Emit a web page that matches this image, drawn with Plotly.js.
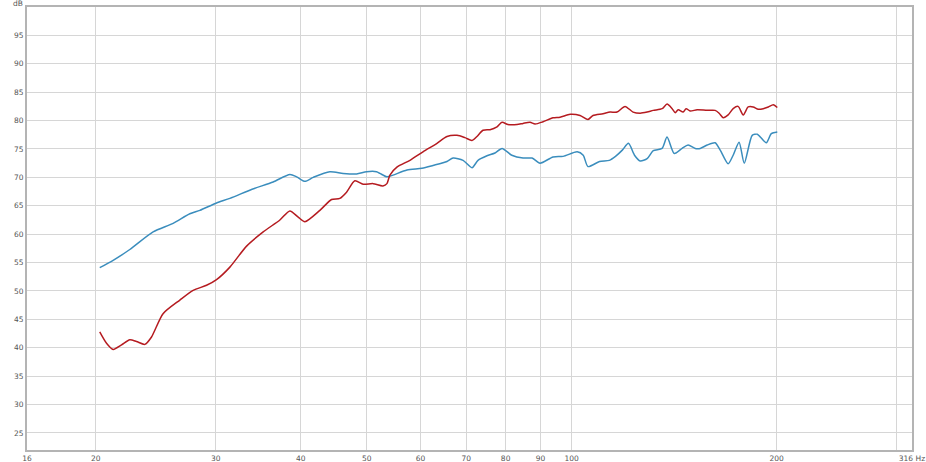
<!DOCTYPE html>
<html>
<head>
<meta charset="utf-8">
<script src="https://cdn.plot.ly/plotly-3.0.1.min.js"></script>
<style>
html,body{margin:0;padding:0;background:#fff;}
#chart{width:926px;height:462px;}
</style>
</head>
<body>
<div id="chart"></div>
<script>
// Blue trace (frequency Hz, level dB)
const blueFreq = [20.27,21.21,22.44,24.28,25.98,27.49,28.44,30.09,31.48,33.93,36.44,38.56,39.45,40.57,41.73,44.15,46.17,48.32,49.98,51.70,52.29,53.54,54.65,57.30,60.29,62.57,65.60,66.97,69.27,71.39,72.86,75.11,77.17,79.03,81.69,84.85,87.48,89.87,93.91,97.16,101.9,104.0,105.7,109.9,113.6,116.0,118.7,121.2,123.7,126.1,129.1,131.8,135.8,138.1,141.5,145.3,148.3,151.9,154.5,158.2,162.5,165.3,169.8,172.7,176.2,179.3,184.2,187.4,189.3,193.2,196.5,200.5];
const blueDb = [54.1,55.4,57.3,60.4,61.9,63.6,64.2,65.5,66.3,67.9,69.2,70.5,70.1,69.3,70.0,71.0,70.7,70.6,71.0,71.0,70.7,70.1,70.4,71.3,71.6,72.1,72.8,73.4,73.0,71.7,73.0,73.8,74.3,75.1,73.9,73.4,73.4,72.5,73.6,73.7,74.5,73.9,71.9,72.8,73.0,73.7,74.8,76.0,73.9,72.9,73.3,74.7,75.1,77.1,74.2,75.1,75.7,75.1,75.1,75.7,76.1,74.8,72.4,73.9,76.2,72.5,77.4,77.6,77.1,76.1,77.7,78.0];

// Red trace (frequency Hz, level dB)
const redFreq = [20.27,20.74,21.21,21.82,22.44,22.95,23.61,24.15,25.11,26.58,27.80,29.09,30.09,31.48,33.31,35.23,37.28,38.56,39.66,40.57,42.68,44.40,45.66,46.71,48.04,49.41,51.11,52.82,53.54,54.09,55.38,57.88,60.49,63.42,65.60,67.86,69.72,71.39,72.61,74.10,75.88,77.70,79.03,80.65,83.14,84.85,86.88,88.37,90.79,93.91,96.17,99.48,102.9,105.7,107.5,111.2,113.9,116.6,119.8,123.1,126.1,129.1,131.8,135.8,138.1,140.5,142.0,143.4,145.8,147.3,149.3,152.9,158.2,162.5,164.7,167.0,169.8,172.7,175.6,178.7,181.7,184.8,188.0,191.2,194.5,197.8,200.5];
const redDb = [42.8,40.8,39.7,40.5,41.4,41.1,40.6,41.9,46.0,48.4,50.1,51.0,52.0,54.2,57.9,60.4,62.5,64.1,63.0,62.2,64.2,66.1,66.3,67.4,69.4,68.8,68.9,68.5,68.9,70.4,71.8,73.0,74.5,76.0,77.2,77.4,77.0,76.5,77.2,78.3,78.4,78.9,79.7,79.3,79.3,79.5,79.7,79.4,79.8,80.5,80.6,81.1,80.9,80.2,80.9,81.2,81.5,81.5,82.5,81.5,81.3,81.5,81.8,82.1,82.9,82.1,81.4,81.9,81.5,82.1,81.7,81.9,81.8,81.8,81.3,80.5,81.0,82.1,82.5,81.0,82.4,82.4,82.0,82.1,82.4,82.8,82.3];

// Axis ticks
const xTickVals = [15.85,20,30,40,50,60,70,80,90,100,200,300,316.2];
const xTickText = ['16','20','30','40','50','60','70','80','90','100','200','','316 Hz'];
const yTickVals = [25,30,35,40,45,50,55,60,65,70,75,80,85,90,95];
const yTickText = ['25','30','35','40','45','50','55','60','65','70','75','80','85','90','95'];

const traces = [
  {x: blueFreq, y: blueDb, type: 'scatter', mode: 'lines',
   line: {color: '#3a8dbd', width: 1.5, shape: 'spline', smoothing: 0.7}, hoverinfo: 'skip'},
  {x: redFreq, y: redDb, type: 'scatter', mode: 'lines',
   line: {color: '#b51b20', width: 1.5, shape: 'spline', smoothing: 0.7}, hoverinfo: 'skip'}
];

const tickFont = {family: 'DejaVu Sans, sans-serif', size: 7.5, color: '#555'};

const layout = {
  width: 926, height: 462,
  margin: {l: 27, r: 14, t: 7, b: 12, pad: 0},
  paper_bgcolor: '#fff', plot_bgcolor: '#fff',
  showlegend: false,
  xaxis: {
    type: 'log', range: [1.2, 2.5],
    tickmode: 'array', tickvals: xTickVals, ticktext: xTickText,
    showgrid: true, gridcolor: '#d6d6d6', gridwidth: 1,
    showline: true, linecolor: '#b4b4b4', linewidth: 2, mirror: true,
    ticks: '', tickfont: tickFont, zeroline: false, fixedrange: true
  },
  yaxis: {
    range: [22, 100],
    tickmode: 'array', tickvals: yTickVals, ticktext: yTickText,
    showgrid: true, gridcolor: '#d6d6d6', gridwidth: 1,
    showline: true, linecolor: '#b4b4b4', linewidth: 2, mirror: true,
    ticks: '', tickfont: tickFont, zeroline: false, fixedrange: true
  },
  annotations: [{
    text: 'dB', xref: 'paper', yref: 'paper', x: 0, y: 1,
    xanchor: 'right', yanchor: 'middle', xshift: -2, yshift: 4,
    showarrow: false, font: tickFont
  }]
};

Plotly.newPlot('chart', traces, layout, {displayModeBar: false, staticPlot: true});
</script>
</body>
</html>
